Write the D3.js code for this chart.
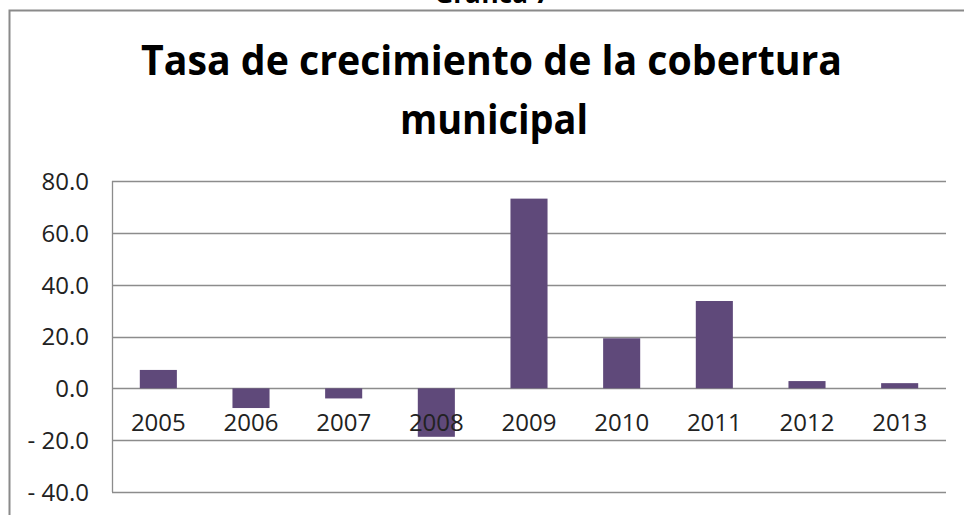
<html>
<head>
<script src="https://d3js.org/d3.v7.min.js"></script>
<style>
  body { margin: 0; background: #fff; }
  svg { display: block; }
  .axis text { font-family: "Open Sans", sans-serif; fill: #222; }
</style>
</head>
<body>
<svg width="964" height="515"></svg>
<script>
// data
var years = ["2005", "2006", "2007", "2008", "2009", "2010", "2011", "2012", "2013"];
var tasa = [7.1, -7.6, -3.9, -18.7, 73.2, 19.3, 33.7, 2.8, 2.0];
var yTicks = [80, 60, 40, 20, 0, -20, -40];

var svg = d3.select("svg");

// outer chart frame (runs past the window on right and bottom)
svg.append("rect")
  .attr("x", 9.5).attr("y", 10.5)
  .attr("width", 1000).attr("height", 600)
  .attr("fill", "#fff")
  .attr("stroke", "#8a8a8a")
  .attr("stroke-width", 2);

// caption cut off at top
svg.append("text")
  .attr("x", 492).attr("y", 3)
  .attr("text-anchor", "middle")
  .style("font-family", "Open Sans, sans-serif")
  .style("font-weight", "bold")
  .style("font-size", "26px")
  .text("Gráfica 7");

// title
svg.append("text")
  .attr("x", 141).attr("y", 75)
  .attr("textLength", 701)
  .attr("lengthAdjust", "spacingAndGlyphs")
  .style("font-family", "Open Sans, sans-serif")
  .style("font-weight", "bold")
  .style("font-size", "42px")
  .text("Tasa de crecimiento de la cobertura");

svg.append("text")
  .attr("x", 400).attr("y", 134)
  .attr("textLength", 188)
  .attr("lengthAdjust", "spacingAndGlyphs")
  .style("font-family", "Open Sans, sans-serif")
  .style("font-weight", "bold")
  .style("font-size", "42px")
  .text("municipal");

var plotL = 112, plotR = 946, plotT = 181, plotB = 492;

var x = d3.scaleBand().domain(years)
  .range([plotL, plotR]).paddingInner(0.6).paddingOuter(0.3);
var y = d3.scaleLinear().domain([-40, 80]).range([plotB, plotT]);

// gridlines
svg.append("g").selectAll("line").data(yTicks).enter().append("line")
  .attr("x1", plotL).attr("x2", plotR)
  .attr("y1", function(d) { return Math.round(y(d)) + 0.5; })
  .attr("y2", function(d) { return Math.round(y(d)) + 0.5; })
  .attr("stroke", "#8c8c8c")
  .attr("stroke-width", 1.3);

// left edge of plot area
svg.append("line")
  .attr("x1", plotL + 0.5).attr("x2", plotL + 0.5)
  .attr("y1", y(80)).attr("y2", y(-40))
  .attr("stroke", "#8c8c8c")
  .attr("stroke-width", 1.3);

// bars
svg.append("g").selectAll("rect").data(tasa).enter().append("rect")
  .attr("x", function(d, i) { return x(years[i]); })
  .attr("y", function(d) { return y(Math.max(0, d)); })
  .attr("width", x.bandwidth())
  .attr("height", function(d) { return Math.abs(y(d) - y(0)); })
  .attr("fill", "#5F497A");

// y axis labels
var fmt = function(d) { return d < 0 ? "- " + d3.format(".1f")(-d) : d3.format(".1f")(d); };
var yaxis = svg.append("g").attr("class", "axis")
  .attr("transform", "translate(" + (plotL - 12) + ",0)")
  .call(d3.axisLeft(y).tickValues(yTicks).tickFormat(fmt).tickSize(0).tickPadding(11));
yaxis.select(".domain").remove();
yaxis.selectAll("text").style("font-size", "24px").attr("dy", "0.35em");

// x labels sit under the zero line
var xaxis = svg.append("g").attr("class", "axis")
  .attr("transform", "translate(0," + y(0) + ")")
  .call(d3.axisBottom(x).tickSize(0).tickPadding(34));
xaxis.select(".domain").remove();
xaxis.selectAll("text").style("font-size", "24px").attr("dy", "0.35em");
</script>
</body>
</html>
